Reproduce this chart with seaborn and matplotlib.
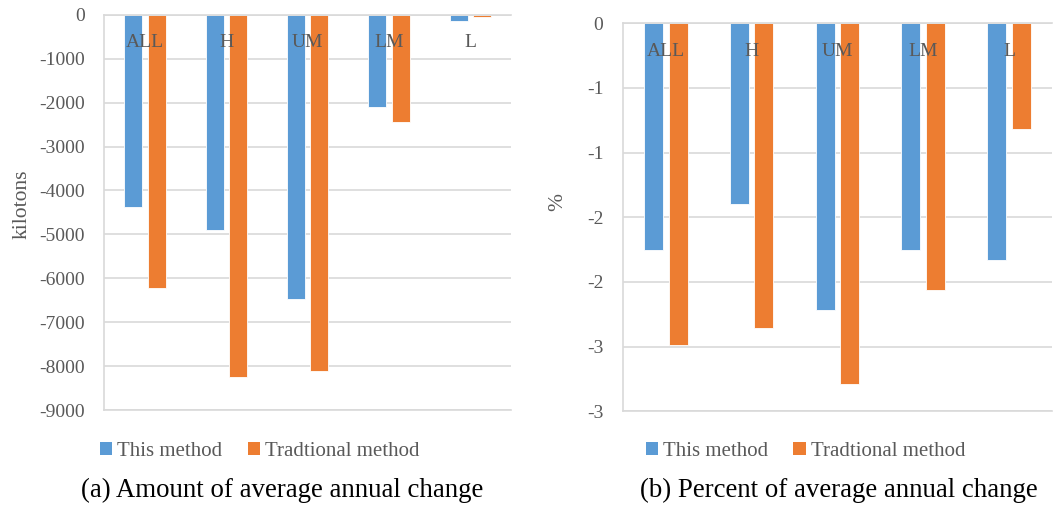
import matplotlib
matplotlib.use("Agg")
import matplotlib.pyplot as plt
from matplotlib.patches import Patch
import pandas as pd
import seaborn as sns

# data
categories = ["ALL", "H", "UM", "LM", "L"]
methods = ["This method", "Tradtional method"]
amount_this = [-4370, -4900, -6480, -2095, -137]
amount_trad = [-6210, -8250, -8100, -2450, -45]
pct_this = [-1.75, -1.40, -2.22, -1.75, -1.83]
pct_trad = [-2.49, -2.36, -2.79, -2.06, -0.82]

amount_ticks = [0, -1000, -2000, -3000, -4000, -5000, -6000, -7000, -8000, -9000]
pct_ticks = [0, -0.5, -1.0, -1.5, -2.0, -2.5, -3.0]
pct_ticklabels = ["0", "-1", "-1", "-2", "-2", "-3", "-3"]

colors = ["#5B9BD5", "#ED7D31"]
grey = "#595959"
grid = "#D9D9D9"

sns.set_style("white")
plt.rcParams["font.family"] = ["Liberation Serif", "DejaVu Serif"]
plt.rcParams["axes.unicode_minus"] = False

df = pd.DataFrame({
    "cat": categories * 2,
    "method": [methods[0]] * 5 + [methods[1]] * 5,
    "amount": amount_this + amount_trad,
    "pct": pct_this + pct_trad,
})

fig = plt.figure(figsize=(10.6, 5.07), dpi=100)
ax1 = fig.add_axes([0.0984, 0.191, 0.3836, 0.780])
ax2 = fig.add_axes([0.5875, 0.189, 0.4050, 0.765])


def style_axis(ax, col, ticks, ylim, ylabel, ticklabels=None):
    sns.barplot(data=df, x="cat", y=col, hue="method", palette=colors,
                width=0.576, saturation=1, ax=ax, legend=False)
    # narrow the bars a bit so a small gap stays between the pair
    for p in ax.patches:
        w = p.get_width()
        nw = w * 0.77
        p.set_x(p.get_x() + (w - nw) / 2)
        p.set_width(nw)
        p.set_edgecolor("white")
        p.set_linewidth(0.6)
    ax.set_ylim(ylim)
    ax.set_xlim(-0.5, 4.5)
    ax.set_yticks(ticks)
    if ticklabels is not None:
        ax.set_yticklabels(ticklabels)
    ax.yaxis.grid(True, color=grid, linewidth=1.2)
    ax.set_axisbelow(True)
    for s in ["top", "left", "bottom"]:
        ax.spines[s].set_color(grid)
        ax.spines[s].set_linewidth(1.2)
    ax.spines["right"].set_visible(False)
    # category labels sit just under the zero line, on top of the bars
    ax.set_xticks([])
    for i, c in enumerate(categories):
        ax.annotate(c, xy=(i, 0), xytext=(0, -20), textcoords="offset points",
                    ha="center", va="center", fontsize=14, color=grey, zorder=5)
    ax.tick_params(axis="y", length=0, pad=14, labelsize=14, labelcolor=grey)
    ax.set_xlabel("")
    ax.set_ylabel(ylabel, fontsize=15.5, color=grey)


style_axis(ax1, "amount", amount_ticks, (-9000, 0), "kilotons")
style_axis(ax2, "pct", pct_ticks, (-3, 0), "%", pct_ticklabels)
ax1.yaxis.set_label_coords(-0.18, 0.52)
ax2.yaxis.set_label_coords(-0.13, 0.54)

handles = [Patch(facecolor=c, edgecolor="none") for c in colors]
for xc in [0.245, 0.760]:
    fig.legend(handles, methods, loc="center", bbox_to_anchor=(xc, 1 - 451.7 / 507),
               ncol=2, frameon=False, fontsize=15, labelcolor=grey,
               handlelength=0.6, handleheight=0.6, handletextpad=0.25,
               columnspacing=1.2)

fig.text(282 / 1060, 1 - 490 / 507, "(a) Amount of average annual change",
         ha="center", va="center", fontsize=19.4, color="black")
fig.text(839 / 1060, 1 - 490 / 507, "(b) Percent of average annual change",
         ha="center", va="center", fontsize=19.4, color="black")

fig.savefig("out.png", dpi=100)
